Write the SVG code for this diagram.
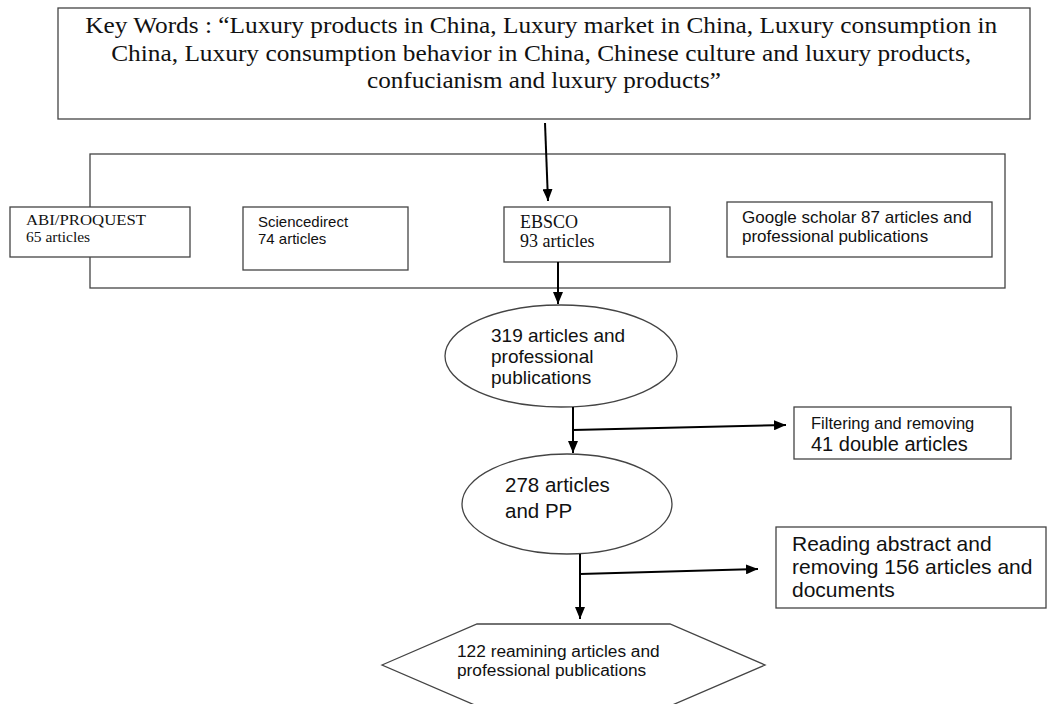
<svg xmlns="http://www.w3.org/2000/svg" width="1047" height="704" viewBox="0 0 1047 704">
<defs>
<style>
.box{fill:#fff;stroke:#444;stroke-width:1.3}
.ctr{fill:none;stroke:#444;stroke-width:1.3}
.serif{font-family:"Liberation Serif","Times New Roman",serif;fill:#111}
.sans{font-family:"Liberation Sans",Arial,sans-serif;fill:#111}
.con{fill:none;stroke:#000;stroke-width:2}
</style>
<marker id="ah" viewBox="0 0 12 10" refX="12" refY="5" markerWidth="12" markerHeight="10" markerUnits="userSpaceOnUse" orient="auto">
<path d="M0,0 L12,5 L0,10 z" fill="#000"/>
</marker>
</defs>
<rect width="1047" height="704" fill="#fff"/>

<g id="keywords">
<rect class="box" x="58" y="8" width="972" height="111"/>
<text class="serif" font-size="23" text-anchor="middle">
<tspan x="544" y="33" textLength="912" lengthAdjust="spacingAndGlyphs">Key Words : “Luxury products in China, Luxury market in China, Luxury consumption in</tspan>
<tspan x="544" y="61" textLength="860" lengthAdjust="spacingAndGlyphs">China, Luxury consumption behavior in China, Chinese culture and luxury products,</tspan>
<tspan x="544" y="88" textLength="354" lengthAdjust="spacingAndGlyphs">confucianism and luxury products”</tspan>
</text>
</g>

<g id="databases">
<rect class="ctr" x="90" y="154" width="915" height="134"/>
</g>

<g id="abi">
<rect class="box" x="10" y="207" width="180" height="50"/>
<text class="serif" font-size="15.5"><tspan x="26" y="225" textLength="120" lengthAdjust="spacingAndGlyphs">ABI/PROQUEST</tspan><tspan x="26" y="242">65 articles</tspan></text>
</g>

<g id="sciencedirect">
<rect class="box" x="243" y="207" width="165" height="63"/>
<text class="sans" font-size="15"><tspan x="258" y="227">Sciencedirect</tspan><tspan x="258" y="244">74 articles</tspan></text>
</g>

<g id="ebsco">
<rect class="box" x="504" y="207" width="166" height="55"/>
<text class="serif" font-size="18"><tspan x="520" y="228">EBSCO</tspan><tspan x="520" y="247">93 articles</tspan></text>
</g>

<g id="google">
<rect class="box" x="727" y="202" width="265" height="55"/>
<text class="sans" font-size="17"><tspan x="742" y="223">Google scholar 87 articles and</tspan><tspan x="742" y="242">professional publications</tspan></text>
</g>

<g id="total319">
<ellipse class="box" cx="561" cy="356" rx="116" ry="51"/>
<text class="sans" font-size="19"><tspan x="491" y="342">319 articles and</tspan><tspan x="491" y="363">professional</tspan><tspan x="491" y="384">publications</tspan></text>
</g>

<g id="filtering">
<rect class="box" x="794" y="407" width="217" height="52"/>
<text class="sans"><tspan x="811" y="429" font-size="16.5">Filtering and removing</tspan><tspan x="811" y="451" font-size="20">41 double articles</tspan></text>
</g>

<g id="total278">
<ellipse class="box" cx="567" cy="504" rx="105" ry="50"/>
<text class="sans" font-size="20.5"><tspan x="505" y="492">278 articles</tspan><tspan x="505" y="518">and PP</tspan></text>
</g>

<g id="reading">
<rect class="box" x="776" y="527" width="270" height="81"/>
<text class="sans" font-size="21"><tspan x="792" y="551">Reading abstract and</tspan><tspan x="792" y="574">removing 156 articles and</tspan><tspan x="792" y="597">documents</tspan></text>
</g>

<g id="remaining">
<polygon class="box" points="382,665 477,624 670,624 765,665 670,706 477,706"/>
<text class="sans" font-size="17.3"><tspan x="457" y="657">122 reamining articles and</tspan><tspan x="457" y="676">professional publications</tspan></text>
</g>

<g id="connectors">
<line class="con" x1="545" y1="123" x2="548" y2="201" marker-end="url(#ah)"/>
<line class="con" x1="558" y1="262" x2="558" y2="304" marker-end="url(#ah)"/>
<line class="con" x1="573" y1="407" x2="573" y2="453" marker-end="url(#ah)"/>
<line class="con" x1="573" y1="430" x2="786" y2="425" marker-end="url(#ah)"/>
<line class="con" x1="580" y1="554" x2="580" y2="619" marker-end="url(#ah)"/>
<line class="con" x1="580" y1="574" x2="758" y2="569" marker-end="url(#ah)"/>
</g>
</svg>
